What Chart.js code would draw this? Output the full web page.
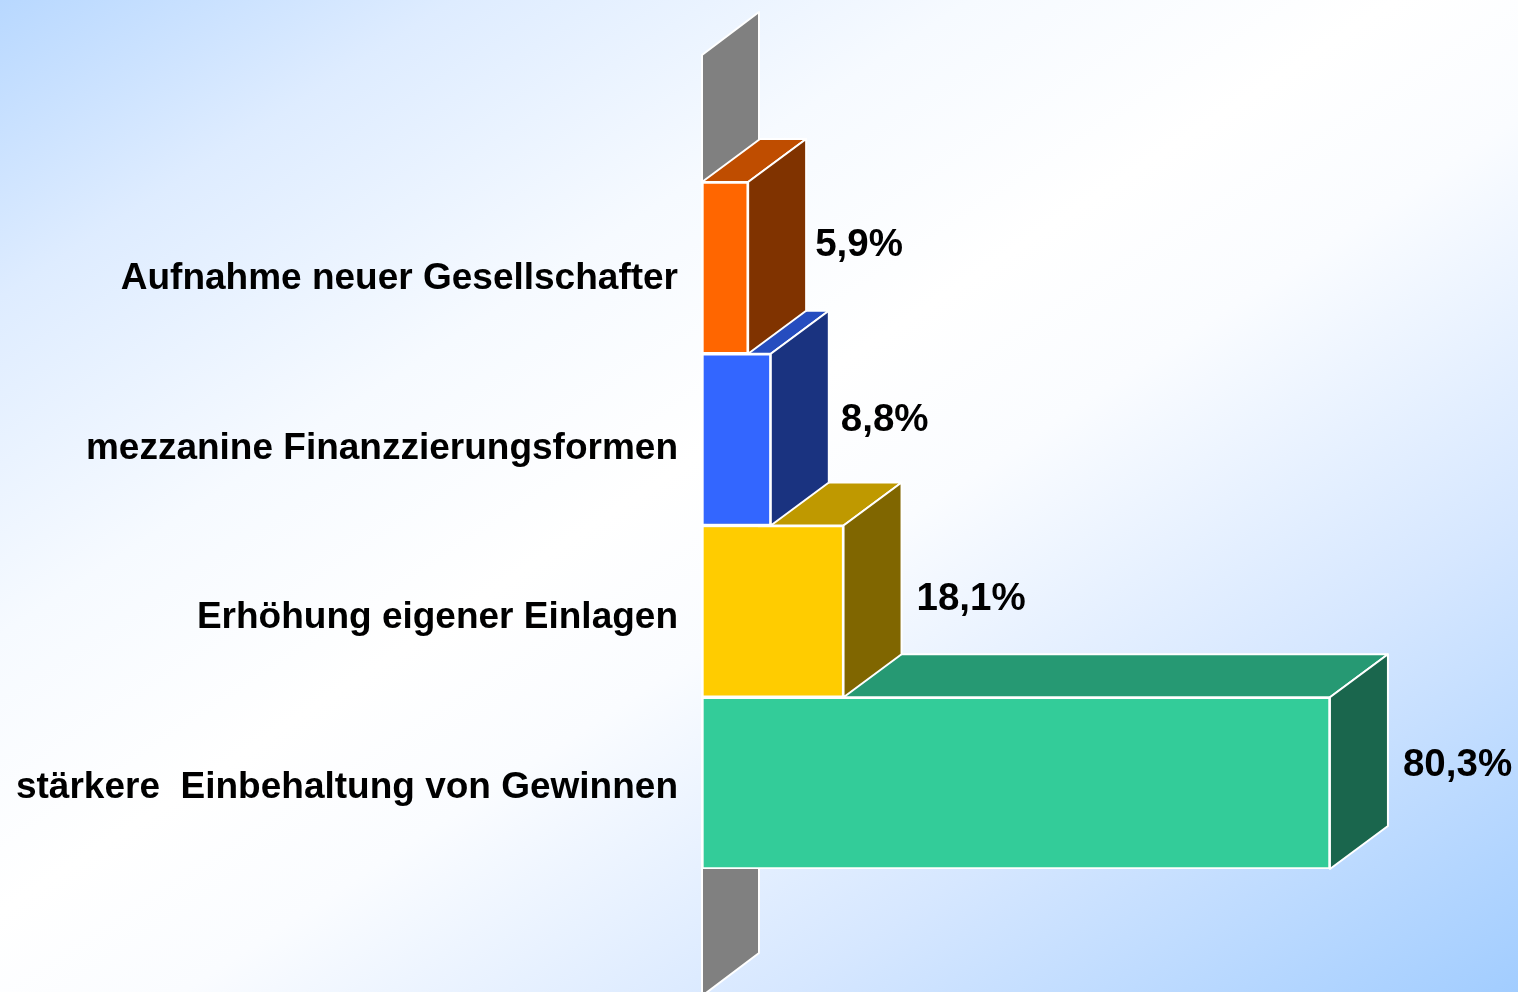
<!DOCTYPE html>
<html lang="de">
<head>
<meta charset="utf-8">
<style>
html,body{margin:0;padding:0;width:1518px;height:992px;overflow:hidden;
background:linear-gradient(to bottom right,#b8d8ff 0%,#deecff 15%,#f6faff 32%,#ffffff 46%,#fafcff 56%,#d6e7ff 76%,#a2cdff 100%);}
canvas{display:block;}
</style>
<script src="https://cdn.jsdelivr.net/npm/chart.js@4"></script>
</head>
<body>
<canvas id="c" width="1518" height="992"></canvas>
<script>
const categories = ['Aufnahme neuer Gesellschafter','mezzanine Finanzzierungsformen','Erhöhung eigener Einlagen','stärkere  Einbehaltung von Gewinnen'];
const values = [5.9, 8.8, 18.1, 80.3];
const valueLabels = ['5,9%','8,8%','18,1%','80,3%'];
const frontColors = ['#FF6600','#3366FF','#FFCC00','#33CC99'];
const topColors = ['#BF4D00','#264DBF','#BF9900','#269973'];
const sideColors = ['#803300','#1A3380','#806600','#1A664D'];

const DX = 58, DY = 43, WALL = 127, WALL_DX = 57;
const FONT = '"Liberation Sans", Arial, sans-serif';
const LABEL_NUDGE = [[9,-22],[12,-19],[15,-12],[15,-18]];
const TICK_NUDGE = [11,9,6.5,5];

function poly(ctx, pts, fill){
  ctx.beginPath();
  pts.forEach((p,i)=> i ? ctx.lineTo(p[0],p[1]) : ctx.moveTo(p[0],p[1]));
  ctx.closePath();
  ctx.fillStyle = fill;
  ctx.fill();
  ctx.stroke();
}

const depthPlugin = {
  id:'depth',
  beforeDatasetsDraw(chart){
    const {ctx, chartArea:a} = chart;
    const meta = chart.getDatasetMeta(0);
    ctx.save();
    ctx.strokeStyle = '#ffffff';
    ctx.lineWidth = 2;
    ctx.lineJoin = 'round';
    const l = a.left, t = a.top - WALL, b = a.bottom + WALL;
    poly(ctx, [[l,t],[l+WALL_DX,t-DY],[l+WALL_DX,b-DY],[l,b]], '#808080');
    for(let i = meta.data.length-1; i>=0; i--){
      const bar = meta.data[i];
      const h = bar.height/2, y0 = bar.y-h, y1 = bar.y+h, x = bar.x;
      poly(ctx, [[l,y0],[x,y0],[x+DX,y0-DY],[l+DX,y0-DY]], topColors[i]);
      poly(ctx, [[x,y0],[x+DX,y0-DY],[x+DX,y1-DY],[x,y1]], sideColors[i]);
    }
    ctx.restore();
  },
  beforeDraw(chart){
    const items = chart.scales.y.getLabelItems();
    if(!items._nudged){
      items.forEach((it,i)=>{ it.options.translation[1] += TICK_NUDGE[i]; });
      items._nudged = true;
    }
  },
  afterDatasetsDraw(chart){
    const {ctx} = chart;
    const meta = chart.getDatasetMeta(0);
    ctx.save();
    ctx.font = 'bold 38.5px '+FONT;
    ctx.fillStyle = '#000';
    ctx.textAlign = 'left';
    ctx.textBaseline = 'middle';
    meta.data.forEach((bar,i)=>{
      ctx.fillText(valueLabels[i], bar.x+DX+LABEL_NUDGE[i][0], bar.y+LABEL_NUDGE[i][1]);
    });
    ctx.restore();
  }
};

new Chart(document.getElementById('c'),{
  type:'bar',
  data:{labels:categories,datasets:[{
    data:values,
    backgroundColor:frontColors,
    borderColor:'#ffffff',
    borderWidth:2,
    borderSkipped:false,
    categoryPercentage:1,
    barPercentage:1
  }]},
  options:{
    indexAxis:'y',
    responsive:false,
    animation:false,
    layout:{padding:{left:0,right:34,top:182,bottom:123}},
    plugins:{legend:{display:false},tooltip:{enabled:false}},
    scales:{
      x:{display:false,min:0,max:100},
      y:{
        grid:{display:false,drawTicks:false},
        border:{display:false},
        afterFit(s){ s.width = 702; },
        ticks:{color:'#000',padding:24,autoSkip:false,font:{family:FONT,weight:'bold',size:37}}
      }
    }
  },
  plugins:[depthPlugin]
});
</script>
</body>
</html>
